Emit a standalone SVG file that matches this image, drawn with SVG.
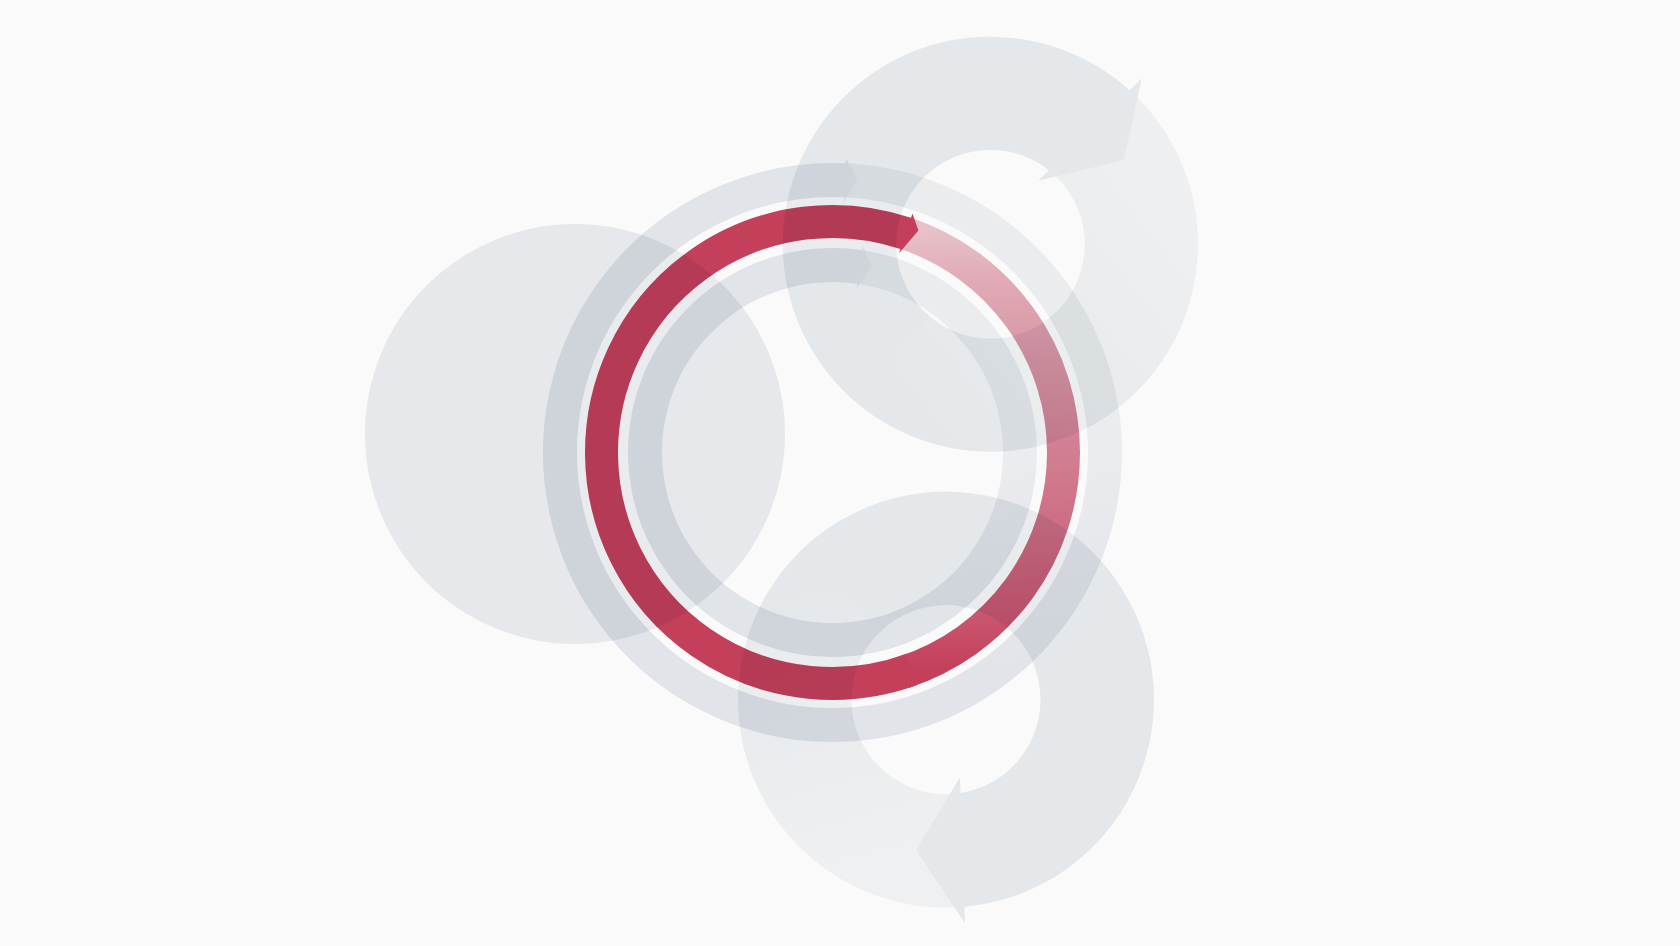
<svg xmlns="http://www.w3.org/2000/svg" width="1680" height="946" viewBox="0 0 1680 946">
<defs>
<linearGradient id="gTopTail" gradientUnits="userSpaceOnUse" x1="1118.5" y1="164.3" x2="883.8" y2="351.0">
<stop offset="0" stop-color="#f2f4f5"/><stop offset="1" stop-color="#eaedf0"/>
</linearGradient>
<linearGradient id="gBotTail" gradientUnits="userSpaceOnUse" x1="916.36" y1="847.92" x2="848.78" y2="583.74">
<stop offset="0" stop-color="#f3f5f6"/><stop offset="1" stop-color="#eaedf0"/>
</linearGradient>
<linearGradient id="gOuterTail" gradientUnits="userSpaceOnUse" x1="857.3" y1="178.8" x2="968.75" y2="688.49">
<stop offset="0" stop-color="#eff1f3"/><stop offset="0.6" stop-color="#eff1f3"/><stop offset="1" stop-color="#e6e9ed"/>
</linearGradient>
<linearGradient id="gInnerTail" gradientUnits="userSpaceOnUse" x1="872" y1="266.65" x2="926.25" y2="614.88">
<stop offset="0" stop-color="#eff1f3"/><stop offset="0.6" stop-color="#eff1f3"/><stop offset="1" stop-color="#e6e9ed"/>
</linearGradient>
<linearGradient id="gRedTail" gradientUnits="userSpaceOnUse" x1="905.8" y1="233.44" x2="911.51" y2="669.57">
<stop offset="0" stop-color="#ecc4cc"/>
<stop offset="0.1093" stop-color="#e5aeba"/>
<stop offset="0.284" stop-color="#dd98a8"/>
<stop offset="0.4954" stop-color="#d68296"/>
<stop offset="0.7078" stop-color="#d16c83"/>
<stop offset="0.8859" stop-color="#cd5670"/>
<stop offset="1" stop-color="#c8405c"/>
</linearGradient>
</defs>
<style>
.mul{mix-blend-mode:multiply}
.ann{fill:#eaedf0}
.gring{fill:none;stroke-width:34}
.gbody{stroke:#e6e9ed}
.ghead{fill:#e6e9ed}
.rring{fill:none;stroke-width:33}
.red{stroke:#c8405c}
.redhead{fill:#c8405c}
.gap{fill:none;stroke:#ffffff;stroke-opacity:0.15}
</style>
<rect x="0" y="0" width="1680" height="946" fill="#fafafa"/>

<g id="node-left" class="mul">
<circle cx="575" cy="434" r="210" fill="#ebedf0"/>
</g>

<g id="node-top" class="mul">
<path d="M1087.5,128.7 A150.9,150.9 0 1 1 883.8,351.0" fill="none" stroke="url(#gTopTail)" stroke-width="113.2"/>
<path class="ann" d="M857.12,403.25 A207.5,207.5 0 1 1 1129.57,90.31 L1141.7,78.3 L1124,160 L1038.3,180.7 L1048.87,170.23 A94.3,94.3 0 0 0 929.89,316.54 Z"/>
</g>

<g id="node-bottom" class="mul">
<path d="M961.81,850.02 A151.25,151.25 0 0 1 848.78,583.74" fill="none" stroke="url(#gBotTail)" stroke-width="113.5"/>
<path class="ann" d="M798.92,552.52 A208,208 0 1 1 964.43,906.79 L965,923.3 L916,850 L960,777.3 L960.54,792.98 A94.5,94.5 0 1 0 879.18,632.78 Z"/>
</g>

<g id="ring-outer" class="mul">
<path class="gring" stroke="url(#gOuterTail)" d="M845.34,180.30 A272.5,272.5 0 0 1 960.43,693.10"/>
<path class="gring gbody" d="M968.75,688.49 A272.5,272.5 0 1 1 846.29,180.35"/>
<polygon class="ghead" points="845.86,158.3 857.3,178.8 843.86,202.26"/>
</g>

<g id="ring-inner" class="mul">
<path class="gring" stroke="url(#gInnerTail)" d="M860.21,267.06 A187.5,187.5 0 0 1 920.53,618.05"/>
<path class="gring gbody" d="M926.25,614.88 A187.5,187.5 0 1 1 860.86,267.16"/>
<polygon class="ghead" points="862.96,246.24 872,266.65 856.82,287.79"/>
</g>

<g id="gaps">
<circle class="gap" cx="832.5" cy="452.5" r="251.5" stroke-width="8"/>
<circle class="gap" cx="832.5" cy="452.5" r="209.5" stroke-width="10"/>
</g>

<g id="ring-red" class="mul">
<path class="rring" stroke="url(#gRedTail)" d="M905.80,233.44 A231,231 0 0 1 903.88,672.19"/>
<path class="rring red" d="M911.51,669.57 A231,231 0 1 1 906.56,233.69"/>
<polygon class="redhead" points="912.46,213.52 918.4,230.5 899.13,253.35"/>
</g>
</svg>
